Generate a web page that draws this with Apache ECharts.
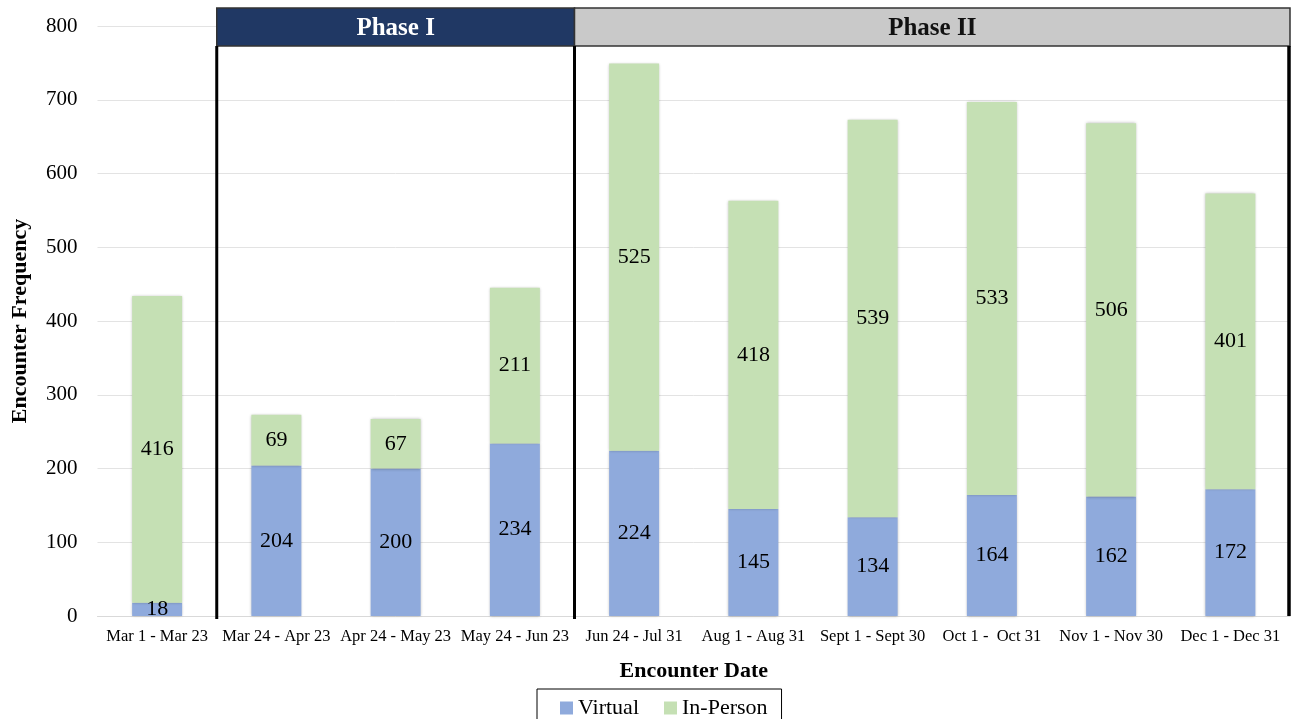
<!DOCTYPE html>
<html>
<head>
<meta charset="utf-8">
<script src="https://cdn.jsdelivr.net/npm/echarts@6/dist/echarts.min.js"></script>
<style>
html, body { margin: 0; padding: 0; background: #fff; }
#chart { width: 1293px; height: 719px; }
</style>
</head>
<body>
<div id="chart"></div>
<script>
// 数据
var categories = ['Mar 1 - Mar 23', 'Mar 24 - Apr 23', 'Apr 24 - May 23', 'May 24 - Jun 23',
    'Jun 24 - Jul 31', 'Aug 1 - Aug 31', 'Sept 1 - Sept 30', 'Oct 1 -  Oct 31',
    'Nov 1 - Nov 30', 'Dec 1 - Dec 31'];
var virtual_counts = [18, 204, 200, 234, 224, 145, 134, 164, 162, 172];
var in_person_counts = [416, 69, 67, 211, 525, 418, 539, 533, 506, 401];
var phase_names = ['Phase I', 'Phase II'];
var phase_first = [1, 4];   // 每个阶段的第一个类别下标
var phase_last = [3, 9];    // 每个阶段的最后一个类别下标

var FONT = '"Liberation Serif", "Times New Roman", serif';

var chart = echarts.init(document.getElementById('chart'));

var option = {
    animation: false,
    textStyle: { fontFamily: FONT },
    grid: { left: 97.5, right: 3, top: 26, bottom: 103, containLabel: false, outerBoundsMode: 'none' },
    xAxis: {
        type: 'category',
        data: categories,
        name: 'Encounter Date',
        nameLocation: 'middle',
        nameGap: 44,
        nameTextStyle: { fontFamily: FONT, fontSize: 22, fontWeight: 'bold', color: '#000' },
        axisLine: { lineStyle: { color: '#d9d9d9', width: 1 } },
        axisTick: { show: false },
        axisLabel: { interval: 0, fontFamily: FONT, fontSize: 16.5, color: '#000', margin: 12 }
    },
    yAxis: {
        type: 'value',
        min: 0,
        max: 800,
        interval: 100,
        name: 'Encounter Frequency',
        nameLocation: 'middle',
        nameGap: 66,
        nameTextStyle: { fontFamily: FONT, fontSize: 22, fontWeight: 'bold', color: '#000' },
        axisLine: { show: false },
        axisTick: { show: false },
        axisLabel: { fontFamily: FONT, fontSize: 21, color: '#000', margin: 20 },
        splitLine: { lineStyle: { color: '#e3e3e3', width: 1 } }
    },
    legend: {
        data: ['Virtual', 'In-Person'],
        icon: 'rect',
        top: 689,
        left: 537,
        itemWidth: 13,
        itemHeight: 13,
        itemGap: 25,
        padding: [8, 14, 12, 23],
        borderColor: '#000',
        borderWidth: 1,
        textStyle: { fontFamily: FONT, fontSize: 22, color: '#000' }
    },
    series: [
        {
            name: 'Virtual',
            type: 'bar',
            stack: 'total',
            barWidth: 50,
            data: virtual_counts,
            itemStyle: { color: '#8faadc', shadowBlur: 3, shadowColor: 'rgba(0,0,0,0.3)' },
            label: { show: true, position: 'inside', fontFamily: FONT, fontSize: 22, color: '#000' }
        },
        {
            name: 'In-Person',
            type: 'bar',
            stack: 'total',
            barWidth: 50,
            data: in_person_counts,
            itemStyle: { color: '#c5e0b4', shadowBlur: 3, shadowColor: 'rgba(0,0,0,0.3)' },
            label: { show: true, position: 'inside', fontFamily: FONT, fontSize: 22, color: '#000' }
        }
    ]
};

chart.setOption(option);

// 阶段标题和分隔线，位置由坐标轴换算
function phase_setup() {
    var c0 = chart.convertToPixel({ xAxisIndex: 0 }, 0);
    var c1 = chart.convertToPixel({ xAxisIndex: 0 }, 1);
    var band = c1 - c0;
    var y_base = chart.convertToPixel({ yAxisIndex: 0 }, 0);
    var head_top = 8, head_h = 38;
    var fills = ['#203864', '#c9c9c9'];
    var text_colors = ['#fff', '#111'];
    var elements = [];
    var i;
    for (i = 0; i < phase_names.length; i++) {
        var x_left = chart.convertToPixel({ xAxisIndex: 0 }, phase_first[i]) - band / 2;
        var x_right = chart.convertToPixel({ xAxisIndex: 0 }, phase_last[i]) + band / 2;
        elements.push({
            type: 'rect',
            shape: { x: x_left, y: head_top, width: x_right - x_left, height: head_h },
            style: { fill: fills[i], stroke: '#333', lineWidth: 1.5 },
            z: 10
        });
        elements.push({
            type: 'text',
            x: (x_left + x_right) / 2,
            y: head_top + head_h / 2 + 2,
            style: {
                text: phase_names[i], fill: text_colors[i], font: 'bold 25px ' + FONT,
                align: 'center', verticalAlign: 'middle'
            },
            z: 11
        });
        elements.push({
            type: 'line',
            shape: { x1: x_left, y1: head_top + head_h, x2: x_left, y2: y_base + 3 },
            style: { stroke: '#000', lineWidth: 3 },
            z: 10
        });
        if (i == phase_names.length - 1) {
            elements.push({
                type: 'line',
                shape: { x1: x_right - 1, y1: head_top + head_h, x2: x_right - 1, y2: y_base },
                style: { stroke: '#000', lineWidth: 3.5 },
                z: 10
            });
        }
    }
    chart.setOption({ graphic: elements });
}

phase_setup();
</script>
</body>
</html>
